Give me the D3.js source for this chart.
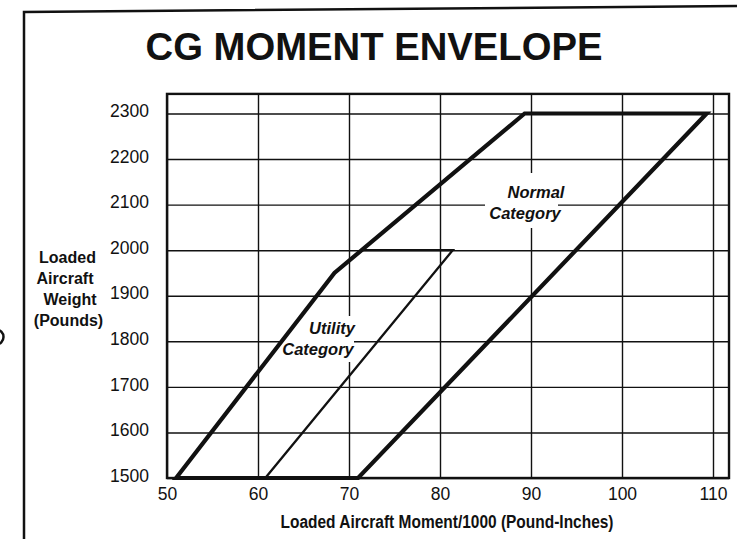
<!DOCTYPE html>
<html>
<head>
<meta charset="utf-8">
<script src="https://cdn.jsdelivr.net/npm/d3@7"></script>
<style>
  html, body { margin: 0; padding: 0; background: #fff; }
  svg { display: block; }
  text { font-family: "Liberation Sans", Arial, Helvetica, sans-serif; fill: #111; }
</style>
</head>
<body>
<svg id="chart" width="737" height="539"></svg>
<script>
// ---- data ----
const title = "CG MOMENT ENVELOPE";
const xLabel = "Loaded Aircraft Moment/1000 (Pound-Inches)";
const yLabelLines = ["Loaded", "Aircraft", "Weight", "(Pounds)"];
const xTicks = [50, 60, 70, 80, 90, 100, 110];
const yTicks = [1500, 1600, 1700, 1800, 1900, 2000, 2100, 2200, 2300];
const normalMoment = [51.0, 68.4, 89.3, 109.3, 71.0];
const normalWeight = [1500, 1950, 2300, 2300, 1500];
const utilityMoment = [71.4, 81.4, 60.8];
const utilityWeight = [2000, 2000, 1500];
const normalText = ["Normal", "Category"];
const utilityText = ["Utility", "Category"];

// ---- layout ----
const svg = d3.select("#chart");
const xMaxFrame = 111.76, yMaxFrame = 2343;
const x = d3.scaleLinear().domain([50, 110]).range([167, 713]);
const y = d3.scaleLinear().domain([1500, 2300]).range([478, 113.5]);
const fx0 = x(50), fx1 = x(xMaxFrame), fy0 = y(yMaxFrame), fy1 = y(1500);

// outer page border (slightly tilted scan)
svg.append("path")
  .attr("d", `M24,539 L24,12 L737,6`)
  .attr("fill", "none").attr("stroke", "#111").attr("stroke-width", 2.5);
// punch hole mark
svg.append("circle").attr("cx", -4).attr("cy", 337).attr("r", 7.5)
  .attr("fill", "none").attr("stroke", "#111").attr("stroke-width", 2.5);

// title
svg.append("text").attr("x", 374).attr("y", 60)
  .attr("text-anchor", "middle").attr("font-weight", "bold")
  .attr("font-size", 39).attr("textLength", 457).attr("lengthAdjust", "spacingAndGlyphs")
  .text(title);

// grid via axes
const xAxis = d3.axisBottom(x).tickValues(xTicks).tickSize(-(fy1 - fy0)).tickPadding(9.5).tickFormat(d3.format("d"));
const gx = svg.append("g").attr("transform", `translate(0,${fy1})`).call(xAxis);
gx.select(".domain").remove();
gx.selectAll(".tick line").attr("stroke", "#111").attr("stroke-width", 1.4);
gx.selectAll(".tick text").attr("font-size", 17.5).attr("fill", "#111")
  .attr("font-family", "Liberation Sans, Arial, sans-serif");

const yAxis = d3.axisLeft(y).tickValues(yTicks).tickSize(-(fx1 - fx0)).tickPadding(18).tickFormat(d3.format("d"));
const gy = svg.append("g").attr("transform", `translate(${fx0},0)`).call(yAxis);
gy.select(".domain").remove();
gy.selectAll(".tick line").attr("stroke", "#111").attr("stroke-width", 1.4);
gy.selectAll(".tick text").attr("font-size", 17.5).attr("fill", "#111").attr("dy", "0.18em")
  .attr("font-family", "Liberation Sans, Arial, sans-serif");

// white boxes behind labels
svg.append("rect").attr("x", 485).attr("y", 173).attr("width", 73).attr("height", 55).attr("fill", "#fff");
svg.append("rect").attr("x", 282).attr("y", 316).attr("width", 72).attr("height", 46).attr("fill", "#fff");

// frame
svg.append("rect").attr("x", fx0).attr("y", fy0).attr("width", fx1 - fx0).attr("height", fy1 - fy0)
  .attr("fill", "none").attr("stroke", "#111").attr("stroke-width", 2.4);

// envelopes
const normalPts = normalMoment.map((m, i) => [m, normalWeight[i]]);
const utilityPts = utilityMoment.map((m, i) => [m, utilityWeight[i]]);
const line = d3.line().x(d => x(d[0])).y(d => y(d[1]));
svg.append("path").attr("d", line(normalPts) + "Z")
  .attr("fill", "none").attr("stroke", "#111").attr("stroke-width", 4.2).attr("stroke-linejoin", "miter");
svg.append("path").attr("d", line(utilityPts))
  .attr("fill", "none").attr("stroke", "#111").attr("stroke-width", 2.3).attr("stroke-linejoin", "miter");

// category labels
function label(lines, cxs, bys) {
  lines.forEach((t, i) => {
    svg.append("text").attr("x", cxs[i]).attr("y", bys[i])
      .attr("text-anchor", "middle").attr("font-weight", "bold").attr("font-style", "italic")
      .attr("font-size", 16.5).text(t);
  });
}
label(normalText, [536, 525], [198, 219]);
label(utilityText, [332, 318], [334, 355]);

// axis titles
svg.append("text").attr("x", 447).attr("y", 528)
  .attr("text-anchor", "middle").attr("font-weight", "bold")
  .attr("font-size", 18).attr("textLength", 333).attr("lengthAdjust", "spacingAndGlyphs")
  .text(xLabel);
const yl = [[67.5, 262.5], [65, 284], [70, 305], [68.5, 326]];
yLabelLines.forEach((t, i) => {
  svg.append("text").attr("x", yl[i][0]).attr("y", yl[i][1])
    .attr("text-anchor", "middle").attr("font-weight", "bold").attr("font-size", 16).text(t);
});
</script>
</body>
</html>
